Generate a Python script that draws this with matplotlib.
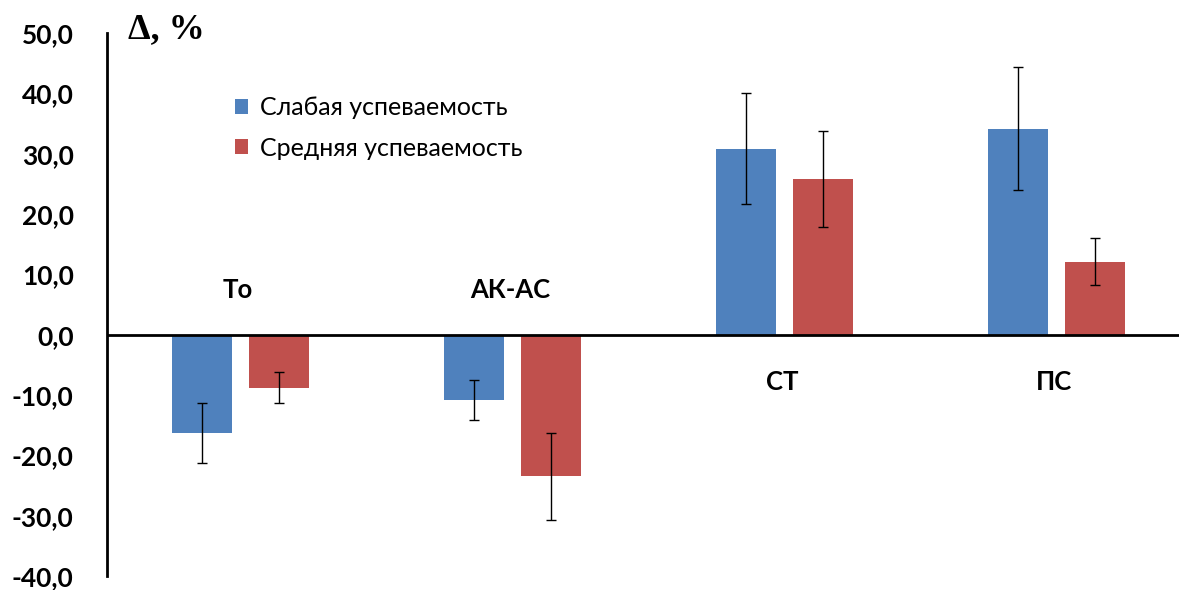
import matplotlib.pyplot as plt
import numpy as np

# Data
categories = ['То', 'АК-АС', 'СТ', 'ПС']
weak = [-16.3, -10.8, 30.8, 34.1]
weak_err = [5.0, 3.3, 9.2, 10.2]
medium = [-8.8, -23.5, 25.8, 12.1]
medium_err = [2.6, 7.2, 7.9, 3.9]
series_names = ['Слабая успеваемость', 'Средняя успеваемость']
yticks = np.arange(-40, 51, 10)

colors = ['#4F81BD', '#C0504D']
font = ['Lato', 'DejaVu Sans']

fig = plt.figure(figsize=(11.79, 5.90), dpi=100)
ax = fig.add_axes([107 / 1179, 14 / 590, 1 - 107 / 1179, 543 / 590])

x = np.arange(len(categories))
width = 0.22
offset = 0.1415
err_kw = dict(ecolor='black', elinewidth=1.0, capsize=3.6, capthick=1.0)
ax.bar(x - offset, weak, width, color=colors[0], yerr=weak_err,
       error_kw=err_kw, label=series_names[0], zorder=2)
ax.bar(x + offset, medium, width, color=colors[1], yerr=medium_err,
       error_kw=err_kw, label=series_names[1], zorder=2)

ax.axhline(0, color='black', linewidth=2, zorder=3)

# category labels: above zero for negative groups, below for positive
for i, cat in enumerate(categories):
    ypos = 7.4 if weak[i] < 0 else -7.8
    ax.text(x[i] - 0.01, ypos, cat, ha='center', va='center', fontsize=18.5,
            fontweight='bold', family=font)

ax.set_xlim(-0.491, 3.45)
ax.set_ylim(-40, 50)
ax.set_yticks(yticks)
ax.set_yticklabels([f'{v:.1f}'.replace('.', ',') for v in yticks],
                   fontsize=19, fontweight='bold', family=font)
ax.tick_params(axis='y', length=0, pad=24)
ax.set_xticks([])
for side in ['top', 'right', 'bottom']:
    ax.spines[side].set_visible(False)
ax.spines['left'].set_linewidth(2)

leg = ax.legend(loc='upper left', bbox_to_anchor=(0.098, 0.925), frameon=False,
                prop={'family': font, 'size': 18}, handlelength=0.55,
                handleheight=0.55, handletextpad=0.45, labelspacing=0.7)

fig.text(128 / 1179, 1 - 30 / 590, 'Δ, %', ha='left', va='center', fontsize=26,
         fontweight='bold', family='Liberation Serif')

fig.savefig('out.png', dpi=100)
